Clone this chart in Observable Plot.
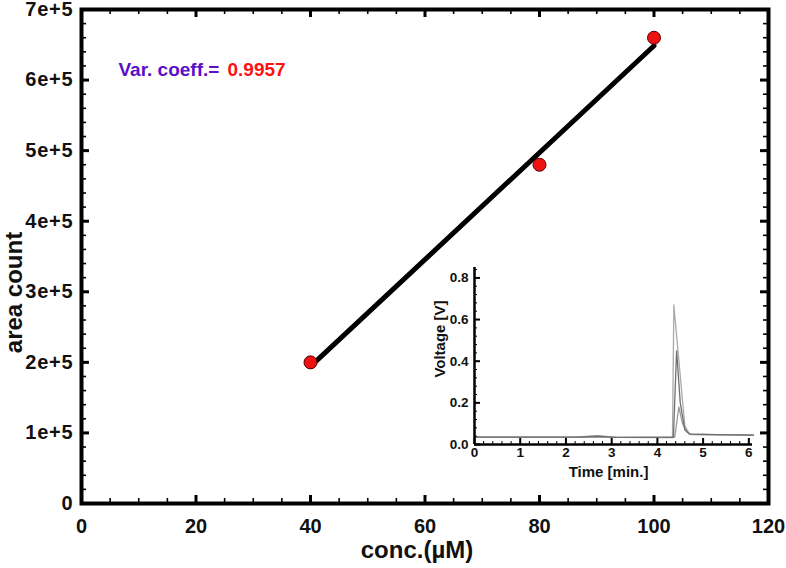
<!DOCTYPE html>
<html><head><meta charset="utf-8">
<script src="https://cdn.jsdelivr.net/npm/d3@7"></script>
<script src="https://cdn.jsdelivr.net/npm/@observablehq/plot@0.6"></script>
<style>
body{margin:0;background:#fff;}
#wrap{position:relative;width:786px;height:568px;overflow:hidden;}
#inset{position:absolute;left:420px;top:255px;}
svg{overflow:visible;}
#main g[aria-label="y-axis tick label"] text{letter-spacing:0.8px;}
</style></head><body><div id="wrap"><div id="main"></div><div id="inset"></div></div>
<script>
// ---- main calibration data ----
const conc = [40, 80, 100];
const area = [200000, 480000, 660000];
const xTicks = [0, 20, 40, 60, 80, 100, 120];
const xMinor = d3.range(0, 121, 5);
const yTicks = [0, 100000, 200000, 300000, 400000, 500000, 600000, 700000];
const yTickLabels = ["0", "1e+5", "2e+5", "3e+5", "4e+5", "5e+5", "6e+5", "7e+5"];
const yMinor = d3.range(0, 700001, 20000);
const xLabel = "conc.(\u00b5M)";
const yLabel = "area count";
const coeffText = "Var. coeff.=";
const coeffValue = "0.9957";

// ---- inset chromatogram data ----
const traceA_t = [0, 1, 2.2, 2.7, 3.1, 4.0, 4.33, 4.36, 4.45, 4.6, 4.7, 5.0, 5.3, 6.1];
const traceA_v = [0.035, 0.035, 0.035, 0.042, 0.034, 0.033, 0.033, 0.67, 0.45, 0.09, 0.05, 0.048, 0.047, 0.045];
const traceB_t = [0, 2.2, 2.7, 3.1, 4.35, 4.42, 4.5, 4.6, 4.7, 5.3, 6.1];
const traceB_v = [0.035, 0.035, 0.04, 0.034, 0.034, 0.45, 0.2, 0.07, 0.05, 0.047, 0.045];
const traceC_t = [0, 3.1, 4.38, 4.47, 4.55, 4.65, 4.75, 6.1];
const traceC_v = [0.035, 0.034, 0.036, 0.18, 0.1, 0.06, 0.048, 0.045];
const insetXTicks = [0, 1, 2, 3, 4, 5, 6];
const insetXMinor = d3.range(0, 6.01, 0.2);
const insetYTicks = [0, 0.2, 0.4, 0.6, 0.8];
const insetYMinor = d3.range(0, 0.841, 0.04);
const insetXLabel = "Time [min.]";
const insetYLabel = "Voltage [V]";

const font = "Liberation Sans, Arial, Helvetica, sans-serif";
const points = conc.map((c, i) => ({conc: c, area: area[i]}));

const W = 786, H = 568, mL = 81, mR = 18, mT = 9, mB = 65;
const iw = W - mL - mR, ih = H - mT - mB;

const main = Plot.plot({
  width: W, height: H,
  marginLeft: mL, marginRight: mR, marginTop: mT, marginBottom: mB,
  style: {fontFamily: font, background: "white"},
  x: {domain: [0, 120], axis: null},
  y: {domain: [0, 700000], axis: null},
  marks: [
    // minor and major ticks, inward on all four sides
    Plot.tickX(xMinor, {x: d => d, insetTop: ih - 5, stroke: "black", strokeWidth: 1.6}),
    Plot.tickX(xMinor, {x: d => d, insetBottom: ih - 5, stroke: "black", strokeWidth: 1.6}),
    Plot.tickX(xTicks, {x: d => d, insetTop: ih - 8, stroke: "black", strokeWidth: 3}),
    Plot.tickX(xTicks, {x: d => d, insetBottom: ih - 8, stroke: "black", strokeWidth: 3}),
    Plot.tickY(yMinor, {y: d => d, insetRight: iw - 5, stroke: "black", strokeWidth: 1.6}),
    Plot.tickY(yMinor, {y: d => d, insetLeft: iw - 5, stroke: "black", strokeWidth: 1.6}),
    Plot.tickY(yTicks, {y: d => d, insetRight: iw - 8, stroke: "black", strokeWidth: 3}),
    Plot.tickY(yTicks, {y: d => d, insetLeft: iw - 8, stroke: "black", strokeWidth: 3}),
    Plot.frame({stroke: "black", strokeWidth: 4}),
    Plot.axisX({ticks: xTicks, tickSize: 0, tickPadding: 15, fontSize: 20, fontWeight: "bold", fill: "#111", label: null}),
    Plot.axisY({ticks: yTicks, tickFormat: d => yTickLabels[yTicks.indexOf(d)], tickSize: 0, tickPadding: 8, fontSize: 20, fontWeight: "bold", fill: "#111", label: null}),
    Plot.text([xLabel], {frameAnchor: "bottom", lineAnchor: "middle", dy: 47, dx: -8, fontSize: 24, fontWeight: "bold", fill: "#111"}),
    Plot.text([yLabel], {frameAnchor: "left", textAnchor: "middle", lineAnchor: "middle", rotate: -90, dx: -67, dy: 36, fontSize: 24, fontWeight: "bold", fill: "#111"}),
    Plot.linearRegressionY(points, {x: "conc", y: "area", ci: 0, stroke: "black", strokeWidth: 5}),
    Plot.dot(points, {x: "conc", y: "area", r: 6.5, fill: "#ee1111", stroke: "#550000", strokeWidth: 1}),
    Plot.text([coeffText], {x: 6.46, y: 615000, textAnchor: "start", lineAnchor: "middle", fontSize: 19, fontWeight: "bold", fill: "#5a0fc8"}),
    Plot.text([coeffValue], {x: 25.5, y: 615000, textAnchor: "start", lineAnchor: "middle", fontSize: 19, fontWeight: "bold", fill: "#ff1010"})
  ]
});
document.getElementById("main").appendChild(main);

const tr = (name, t, v) => t.map((x, i) => ({name, t: x, v: v[i]}));
const IW = 345, IH = 230, imL = 54, imR = 13, imT = 12, imB = 41;
const iiw = IW - imL - imR, iih = IH - imT - imB;

const inset = Plot.plot({
  width: IW, height: IH,
  marginLeft: imL, marginRight: imR, marginTop: imT, marginBottom: imB,
  style: {fontFamily: font, background: "transparent"},
  x: {domain: [0, 6.08], axis: null},
  y: {domain: [0, 0.85], axis: null},
  marks: [
    Plot.line(tr("A", traceA_t, traceA_v), {x: "t", y: "v", stroke: "#aaaaaa", strokeWidth: 1.3}),
    Plot.line(tr("C", traceC_t, traceC_v), {x: "t", y: "v", stroke: "#999999", strokeWidth: 1.3}),
    Plot.line(tr("B", traceB_t, traceB_v), {x: "t", y: "v", stroke: "#707070", strokeWidth: 1.3}),
    Plot.tickX(insetXMinor, {x: d => d, insetTop: iih - 3, stroke: "black", strokeWidth: 1}),
    Plot.tickX(insetXTicks, {x: d => d, insetTop: iih - 6, stroke: "black", strokeWidth: 2}),
    Plot.tickY(insetYMinor, {y: d => d, insetRight: iiw - 3, stroke: "black", strokeWidth: 1}),
    Plot.tickY(insetYTicks, {y: d => d, insetRight: iiw - 6, stroke: "black", strokeWidth: 2}),
    Plot.ruleX([0], {stroke: "black", strokeWidth: 2.5}),
    Plot.ruleY([0], {stroke: "black", strokeWidth: 2.5}),
    Plot.axisX({ticks: insetXTicks, tickFormat: d => String(d), tickSize: 0, tickPadding: 3, fontSize: 13.5, fontWeight: "bold", fill: "#111", label: null}),
    Plot.axisY({ticks: insetYTicks, tickFormat: d => d.toFixed(1), tickSize: 0, tickPadding: 6, fontSize: 13.5, fontWeight: "bold", fill: "#111", label: null}),
    Plot.text([insetXLabel], {frameAnchor: "bottom", lineAnchor: "middle", dy: 28, dx: -5, fontSize: 15, fontWeight: "bold", fill: "#111"}),
    Plot.text([insetYLabel], {frameAnchor: "left", textAnchor: "middle", lineAnchor: "middle", rotate: -90, dx: -34, dy: -17, fontSize: 15, fontWeight: "bold", fill: "#111"})
  ]
});
document.getElementById("inset").appendChild(inset);
</script></body></html>
